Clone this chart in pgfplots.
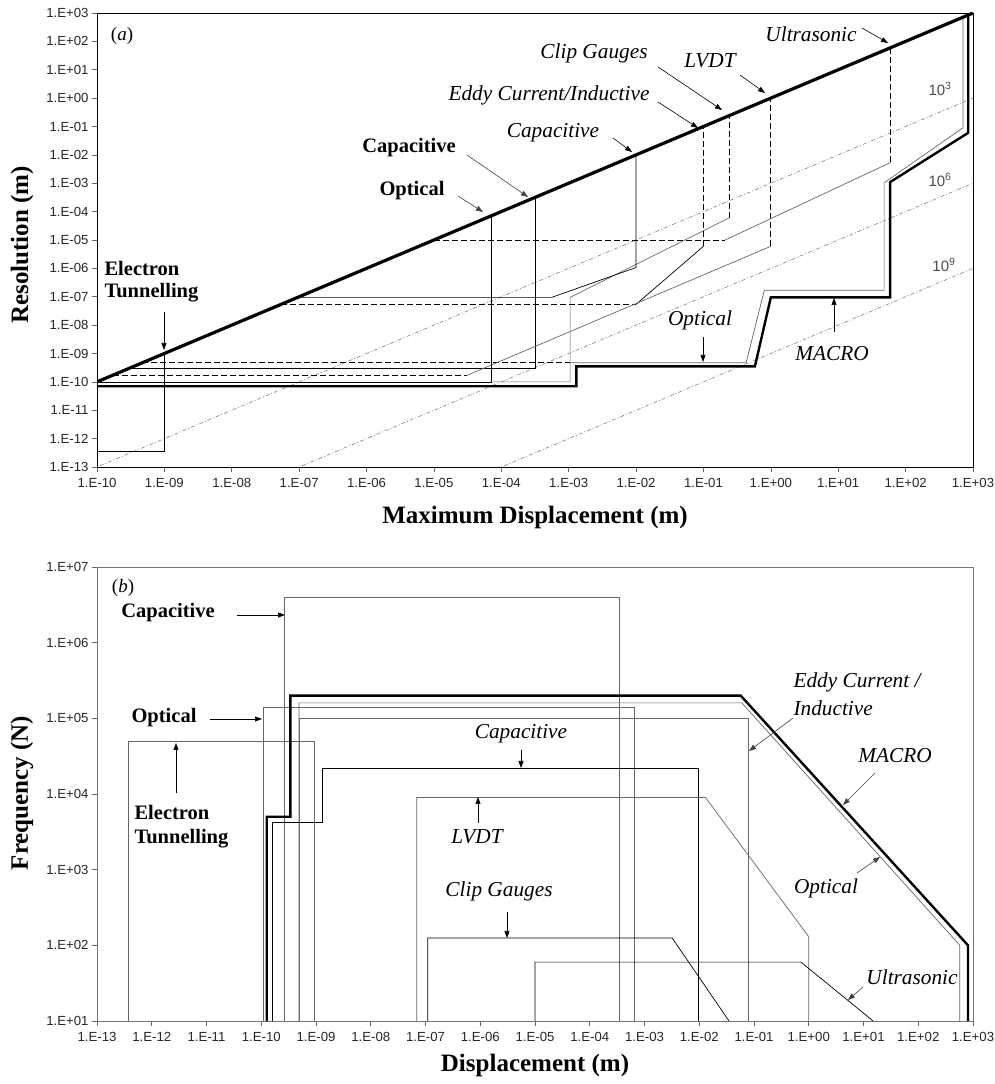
\documentclass[border=0pt]{standalone}
\usepackage{fontspec}
\setmainfont{Liberation Serif}
\newfontfamily\arial{Liberation Sans}
\usepackage{pgfplots}
\pgfplotsset{compat=1.18}
\usetikzlibrary{arrows.meta}
\definecolor{lg}{gray}{0.40}
\tikzset{
  bl/.style={font=\fontsize{20.5}{23}\selectfont\bfseries},
  it/.style={font=\fontsize{21.3}{24}\selectfont\itshape},
  ar/.style={-{Triangle[length=7pt,width=5pt]}, line width=0.6pt, black},
  ar2/.style={-{Triangle[length=7pt,width=5pt]}, line width=0.6pt, black!75},
}
\pgfplotsset{
  common/.style={
    scale only axis, width=876pt, height=454pt,
    xminorticks=false, yminorticks=false,
    tick align=outside, major tick length=5pt,
    xtick pos=bottom, ytick pos=left,
    tick style={black!60, line width=0.6pt},
    ticklabel style={font=\fontsize{13.2}{15}\selectfont\arial, text=black!85},
    xticklabel style={yshift=-3pt},
    every axis plot/.append style={line join=miter, line width=0.7pt, mark=none},
    clip=true,
  },
}
\begin{document}
\begin{tikzpicture}[x=1pt,y=1pt]
\useasboundingbox (0,0) rectangle (994,1084);
% ---------------- panel (a)
\begin{loglogaxis}[common, at={(97pt,617pt)}, anchor=south west,
  xmin=1e-10, xmax=1e3, ymin=1e-13, ymax=1e3,
  axis line style={black, line width=0.9pt},
  xtick={1e-10,1e-9,1e-8,1e-7,1e-6,1e-5,1e-4,1e-3,1e-2,1e-1,1,1e1,1e2,1e3},
  xticklabels={1.E-10,1.E-09,1.E-08,1.E-07,1.E-06,1.E-05,1.E-04,1.E-03,1.E-02,1.E-01,1.E+00,1.E+01,1.E+02,1.E+03},
  ytick={1e-13,1e-12,1e-11,1e-10,1e-9,1e-8,1e-7,1e-6,1e-5,1e-4,1e-3,1e-2,1e-1,1,1e1,1e2,1e3},
  yticklabels={1.E-13,1.E-12,1.E-11,1.E-10,1.E-09,1.E-08,1.E-07,1.E-06,1.E-05,1.E-04,1.E-03,1.E-02,1.E-01,1.E+00,1.E+01,1.E+02,1.E+03},
]
% ratio lines
\addplot[gray, line width=0.6pt, dash pattern=on 1pt off 2pt on 4pt off 2pt] coordinates {(1e-10,1e-13) (1e3,1)};
\addplot[gray, line width=0.6pt, dash pattern=on 1pt off 2pt on 4pt off 2pt] coordinates {(1e-7,1e-13) (1e3,1e-3)};
\addplot[gray, line width=0.6pt, dash pattern=on 1pt off 2pt on 4pt off 2pt] coordinates {(1e-4,1e-13) (1e3,1e-6)};
% electron tunnelling
\addplot[black] coordinates {(1e-10,3.5e-13) (1e-9,3.5e-13) (1e-9,1e-9)};
% optical (bold)
\addplot[black] coordinates {(1e-10,1e-10) (7e-5,1e-10) (7e-5,7e-5)};
% clip gauges
\addplot[lg] coordinates {(7e-5,1e-10) (1.05e-3,1e-10) (1.05e-3,9.5e-8) (0.24,6e-5)};
\addplot[black, dash pattern=on 6pt off 3pt] coordinates {(0.24,6e-5) (0.24,0.24)};
% capacitive (bold)
\addplot[black] coordinates {(3e-10,3e-10) (3.2e-4,3e-10) (3.2e-4,3.2e-4)};
% optical (italic)
\addplot[black, dash pattern=on 6pt off 3pt] coordinates {(4.7e-10,4.7e-10) (1.05e-3,4.7e-10)};
\addplot[lg] coordinates {(1.05e-3,4.7e-10) (0.43,4.7e-10) (0.8,1.7e-7) (48,1.7e-7) (48,1.04e-3) (710,0.09) (710,710)};
% capacitive (italic)
\addplot[black] coordinates {(9.5e-8,9.5e-8) (5.6e-4,9.5e-8) (0.01,1.07e-6) (0.01,0.01)};
% eddy current
\addplot[black, dash pattern=on 6pt off 3pt] coordinates {(5.4e-8,5.4e-8) (0.01,5.4e-8)};
\addplot[black] coordinates {(0.01,5.4e-8) (0.1,6e-6)};
\addplot[black, dash pattern=on 6pt off 3pt] coordinates {(0.1,6e-6) (0.1,0.1)};
% LVDT
\addplot[black, dash pattern=on 6pt off 3pt] coordinates {(1.7e-10,1.7e-10) (3.1e-5,1.7e-10)};
\addplot[lg] coordinates {(3.1e-5,1.7e-10) (1,6e-6)};
\addplot[black, dash pattern=on 6pt off 3pt] coordinates {(1,6e-6) (1,1)};
% ultrasonic
\addplot[black, dash pattern=on 6pt off 3pt] coordinates {(1e-5,1e-5) (0.21,1e-5)};
\addplot[lg] coordinates {(0.21,1e-5) (60,5.4e-3)};
\addplot[black, dash pattern=on 6pt off 3pt] coordinates {(60,5.4e-3) (60,60)};
% MACRO
\addplot[black, line width=2.4pt] coordinates {(1e-10,7e-11) (1.3e-3,7e-11) (1.3e-3,3.5e-10) (0.58,3.5e-10) (1.0,9.5e-8) (59,9.5e-8) (59,1.1e-3) (850,0.06) (850,850)};
% resolution = displacement
\addplot[black, line width=3.2pt] coordinates {(1e-10,1e-10) (1e3,1e3)};
\end{loglogaxis}
% ---------------- panel (b)
\begin{loglogaxis}[common, at={(97pt,63pt)}, anchor=south west,
  xmin=1e-13, xmax=1e3, ymin=1e1, ymax=1e7,
  axis line style={black!55, line width=0.8pt},
  xtick={1e-13,1e-12,1e-11,1e-10,1e-9,1e-8,1e-7,1e-6,1e-5,1e-4,1e-3,1e-2,1e-1,1,1e1,1e2,1e3},
  xticklabels={1.E-13,1.E-12,1.E-11,1.E-10,1.E-09,1.E-08,1.E-07,1.E-06,1.E-05,1.E-04,1.E-03,1.E-02,1.E-01,1.E+00,1.E+01,1.E+02,1.E+03},
  ytick={1e1,1e2,1e3,1e4,1e5,1e6,1e7},
  yticklabels={1.E+01,1.E+02,1.E+03,1.E+04,1.E+05,1.E+06,1.E+07},
]
\addplot[lg] coordinates {(3.7e-13,10) (3.7e-13,5e4) (9.5e-10,5e4) (9.5e-10,10)};
\addplot[lg] coordinates {(2.6e-10,10) (2.6e-10,4e6) (3.5e-4,4e6) (3.5e-4,10)};
\addplot[lg] coordinates {(1.07e-10,10) (1.07e-10,1.4e5) (6.5e-4,1.4e5) (6.5e-4,10)};
\addplot[lg] coordinates {(5e-10,10) (5e-10,1e5) (0.078,1e5) (0.078,10)};
\addplot[lg] coordinates {(4.9e-10,10) (4.9e-10,1.6e5) (0.06,1.6e5) (575,100) (575,10)};
\addplot[black] coordinates {(1.6e-10,10) (1.6e-10,4.2e3) (1.3e-9,4.2e3) (1.3e-9,2.2e4) (9.5e-3,2.2e4) (9.5e-3,10)};
\addplot[lg] coordinates {(6.9e-8,10) (6.9e-8,9e3) (0.013,9e3) (1.0,130) (1.0,10)};
\addplot[black] coordinates {(1.1e-7,10) (1.1e-7,125) (3.2e-3,125) (0.035,10)};
\addplot[black] coordinates {(1e-5,10) (1e-5,60) (0.72,60) (15,10)};
\addplot[black, line width=2.4pt] coordinates {(1.26e-10,10) (1.26e-10,5e3) (3.4e-10,5e3) (3.4e-10,2e5) (0.057,2e5) (810,100) (810,10)};
\end{loglogaxis}
% ---------------- annotations (pixel coordinates, y downwards)
\begin{scope}[x=1pt, y=-1pt, shift={(0pt,1084pt)}]
% axis titles
\node[rotate=90, font=\fontsize{25}{28}\selectfont\bfseries] at (22,245) {Resolution (m)};
\node[font=\fontsize{25}{28}\selectfont\bfseries] at (535,517) {Maximum Displacement (m)};
\node[rotate=90, font=\fontsize{25}{28}\selectfont\bfseries] at (22,793) {Frequency (N)};
\node[font=\fontsize{25}{28}\selectfont\bfseries] at (535,1065) {Displacement (m)};
% panel (a)
\node[font=\fontsize{19}{22}\selectfont] at (122,36) {(\textit{a})};
\node[it] at (811,34) {Ultrasonic};
\draw[ar] (862,28) -- (888,43);
\node[it] at (594,53) {Clip Gauges};
\draw[ar] (658,67) -- (722,110);
\node[it] at (710,61) {LVDT};
\draw[ar] (740,75) -- (765,93);
\node[it] at (549,95) {Eddy Current/Inductive};
\draw[ar] (658,102) -- (698,128);
\node[it] at (553,133) {Capacitive};
\draw[ar] (613,138) -- (632,152);
\node[bl] at (409,148) {Capacitive};
\draw[ar2] (467,155) -- (528,197);
\node[bl] at (412,191) {Optical};
\draw[ar2] (458,196) -- (483,212);
\node[bl, anchor=west] at (101,268) {Electron};
\node[bl, anchor=west] at (101,293) {Tunnelling};
\draw[ar] (164,312) -- (164,350);
\node[it] at (700,320) {Optical};
\draw[ar] (703,337) -- (703,362);
\node[it] at (832,354) {MACRO};
\draw[ar] (834,332) -- (834,298);
\node[font=\fontsize{15}{17}\selectfont\arial, text=black!70] at (940,89) {10\textsuperscript{3}};
\node[font=\fontsize{15}{17}\selectfont\arial, text=black!70] at (940,180) {10\textsuperscript{6}};
\node[font=\fontsize{15}{17}\selectfont\arial, text=black!70] at (944,265) {10\textsuperscript{9}};
% panel (b)
\node[font=\fontsize{19}{22}\selectfont] at (123,588) {(\textit{b})};
\node[bl] at (168,613) {Capacitive};
\draw[ar] (237,615) -- (285,615);
\node[bl] at (164,718) {Optical};
\draw[ar] (210,719) -- (262,719);
\node[bl, anchor=west] at (131,812) {Electron};
\node[bl, anchor=west] at (131,839) {Tunnelling};
\draw[ar] (176,793) -- (176,743);
\node[it] at (521,734) {Capacitive};
\draw[ar] (521,750) -- (521,768);
\node[it] at (477,837) {LVDT};
\draw[ar] (478,823) -- (478,797);
\node[it] at (499,891) {Clip Gauges};
\draw[ar] (507,912) -- (507,938);
\node[it, anchor=west] at (790,682) {Eddy Current /};
\node[it, anchor=west] at (790,708) {Inductive};
\draw[ar2] (793,718) -- (749,751);
\node[it] at (895,756) {MACRO};
\draw[ar2] (875,773) -- (843,805);
\node[it] at (826,888) {Optical};
\draw[ar2] (857,873) -- (880,857);
\node[it] at (912,977) {Ultrasonic};
\draw[ar2] (863,987) -- (848,1000);
\end{scope}
\end{tikzpicture}
\end{document}
